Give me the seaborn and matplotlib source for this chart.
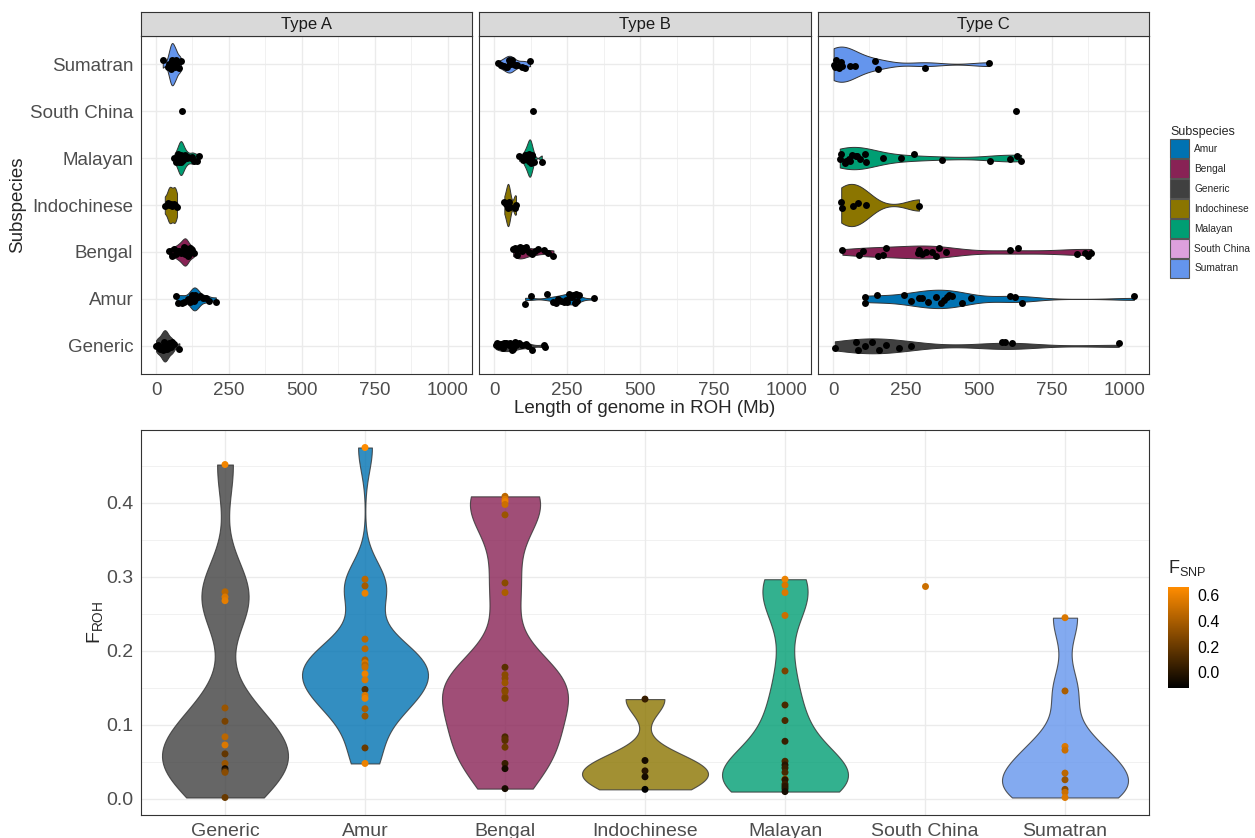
import numpy as np
import pandas as pd
import seaborn as sns
import matplotlib.pyplot as plt
from matplotlib.colors import LinearSegmentedColormap, Normalize
from matplotlib.cm import ScalarMappable
from matplotlib.patches import Patch

# ---------------- data ----------------
subspecies = ["Amur", "Bengal", "Generic", "Indochinese", "Malayan", "South China", "Sumatran"]
sub_colors = ["#0072B2", "#882255", "#404040", "#8B7500", "#009E73", "#DDA0DD", "#6495ED"]
roh_types = ["Type A", "Type B", "Type C"]

# length of genome in ROH (Mb), per subspecies
roh_type_a = {
    "Amur": [70, 75, 88, 95, 110, 118, 122, 125, 128, 130, 132, 135, 138, 140, 145, 150, 160, 172, 180, 205],
    "Bengal": [45, 55, 62, 70, 75, 80, 85, 88, 92, 95, 98, 100, 102, 105, 108, 112, 118, 125, 131],
    "Generic": [0, 5, 10, 15, 20, 22, 25, 28, 30, 32, 35, 38, 40, 45, 50, 55, 60, 80],
    "Indochinese": [30, 40, 45, 50, 55, 62, 65, 72],
    "Malayan": [63, 70, 75, 78, 80, 82, 84, 85, 86, 88, 90, 92, 95, 100, 105, 110, 120, 125, 130, 140, 148],
    "South China": [89],
    "Sumatran": [23, 40, 45, 48, 50, 52, 55, 55, 58, 60, 62, 65, 68, 70, 75, 80, 85],
}
roh_type_b = {
    "Amur": [106, 125, 180, 200, 210, 220, 230, 240, 245, 250, 255, 260, 265, 270, 275, 280, 285, 290, 340],
    "Bengal": [65, 70, 75, 80, 85, 90, 95, 100, 105, 110, 120, 130, 140, 150, 170, 185, 203],
    "Generic": [5, 10, 15, 20, 25, 30, 35, 40, 45, 50, 55, 60, 65, 70, 75, 85, 95, 110, 115, 130, 170, 175],
    "Indochinese": [35, 42, 46, 48, 50, 55, 70, 75],
    "Malayan": [85, 100, 105, 110, 112, 115, 118, 120, 121, 122, 124, 125, 128, 130, 135, 163],
    "South China": [134],
    "Sumatran": [15, 25, 35, 40, 45, 50, 55, 58, 62, 70, 80, 95, 105, 123],
}
roh_type_c = {
    "Amur": [108, 108, 151, 244, 267, 295, 305, 324, 352, 369, 381, 392, 398, 409, 443, 472, 606, 625, 648, 1032],
    "Bengal": [32, 89, 102, 153, 170, 182, 290, 295, 305, 318, 341, 352, 364, 386, 606, 633, 835, 864, 873, 886],
    "Generic": [6, 80, 85, 108, 134, 159, 182, 227, 267, 580, 591, 614, 980],
    "Indochinese": [28, 30, 68, 85, 114, 295],
    "Malayan": [23, 28, 40, 45, 55, 57, 66, 80, 82, 91, 111, 114, 170, 233, 276, 375, 540, 608, 631, 645],
    "South China": [626],
    "Sumatran": [2, 6, 11, 20, 22, 25, 28, 30, 59, 77, 145, 153, 316, 534],
}

# F_ROH and F_SNP per individual
froh = {
    "Generic": [0.452, 0.280, 0.273, 0.268, 0.123, 0.105, 0.084, 0.073, 0.061, 0.048, 0.041, 0.038, 0.036, 0.002],
    "Amur": [0.475, 0.297, 0.288, 0.278, 0.216, 0.203, 0.188, 0.184, 0.181, 0.178, 0.169, 0.161, 0.148, 0.140,
             0.136, 0.122, 0.112, 0.069, 0.048],
    "Bengal": [0.409, 0.405, 0.402, 0.398, 0.384, 0.292, 0.279, 0.178, 0.168, 0.163, 0.157, 0.147, 0.145, 0.138,
               0.136, 0.084, 0.081, 0.079, 0.070, 0.048, 0.041, 0.014],
    "Indochinese": [0.135, 0.052, 0.038, 0.030, 0.013],
    "Malayan": [0.297, 0.289, 0.279, 0.248, 0.173, 0.127, 0.106, 0.078, 0.051, 0.046, 0.042, 0.036, 0.027,
                0.026, 0.020, 0.017, 0.014, 0.010],
    "South China": [0.288],
    "Sumatran": [0.245, 0.146, 0.071, 0.066, 0.035, 0.026, 0.013, 0.009, 0.002],
}
fsnp = {
    "Generic": [0.62, 0.45, 0.55, 0.58, 0.35, 0.25, 0.45, 0.55, 0.18, 0.35, -0.05, 0.1, 0.3, 0.2],
    "Amur": [0.66, 0.45, 0.38, 0.6, 0.45, 0.45, 0.4, 0.55, 0.45, 0.5, 0.6, 0.55, 0.15, 0.55, 0.6, 0.4, 0.35,
             0.2, 0.6],
    "Bengal": [0.45, 0.55, 0.6, 0.5, 0.35, 0.3, 0.4, 0.15, 0.3, 0.3, 0.35, 0.25, 0.3, 0.3, 0.25, 0.1, 0.15,
               0.15, 0.2, 0.05, -0.05, -0.05],
    "Indochinese": [0.05, -0.05, 0.0, -0.05, -0.12],
    "Malayan": [0.6, 0.55, 0.55, 0.5, 0.25, 0.1, 0.1, 0.05, 0.1, 0.0, 0.05, 0.1, 0.4, 0.0, 0.05, 0.0, 0.0, -0.05],
    "South China": [0.5],
    "Sumatran": [0.55, 0.4, 0.55, 0.5, 0.45, 0.35, 0.3, 0.5, 0.55],
}

top_order = ["Sumatran", "South China", "Malayan", "Indochinese", "Bengal", "Amur", "Generic"]
bottom_order = ["Generic", "Amur", "Bengal", "Indochinese", "Malayan", "South China", "Sumatran"]

# ---------------- style ----------------
sns.set_theme(style="white")
plt.rcParams['font.family'] = ['Liberation Sans', 'DejaVu Sans']
plt.rcParams['mathtext.default'] = 'regular'

pal = dict(zip(subspecies, sub_colors))
grid_c = "#EBEBEB"
border_c = "#333333"
tick_c = "#4D4D4D"

W, H = 1255, 838
fig = plt.figure(figsize=(12.55, 8.38), dpi=100)


def box(x0, y0, x1, y1):
    return [x0 / W, 1 - y1 / H, (x1 - x0) / W, (y1 - y0) / H]


def frame(ax):
    for s in ax.spines.values():
        s.set_color(border_c)
        s.set_linewidth(0.8)
    ax.set_axisbelow(True)
    ax.grid(which="major", color=grid_c, lw=1.0)
    ax.grid(which="minor", color=grid_c, lw=0.5)
    ax.tick_params(which="major", length=3.5, width=0.8, color=border_c, labelcolor=tick_c, pad=2)
    ax.tick_params(which="minor", length=0)


def multi(df, col):
    # violins only for groups with more than one observation (like geom_violin)
    n = df.groupby(col)[col].transform("size")
    return df[n > 1]


# ---------------- top: ROH length per type ----------------
panels = [(141, 472), (479, 811), (818, 1149)]
roh_data = [roh_type_a, roh_type_b, roh_type_c]
np.random.seed(7)
for i, (name, d, (x0, x1)) in enumerate(zip(roh_types, roh_data, panels)):
    df = pd.DataFrame([(k, v) for k in subspecies for v in d[k]], columns=["Subspecies", "roh"])
    ax = fig.add_axes(box(x0, 36, x1, 374))
    sns.violinplot(data=multi(df, "Subspecies"), x="roh", y="Subspecies", hue="Subspecies", order=top_order,
                   hue_order=subspecies, palette=pal, dodge=False, density_norm="area", common_norm=True,
                   cut=0, inner=None, width=0.9, bw_adjust=0.6, saturation=1, linewidth=0.7,
                   linecolor=border_c, legend=False, ax=ax)
    sns.stripplot(data=df, x="roh", y="Subspecies", order=top_order, color="black", size=5, jitter=0.1,
                  ax=ax, zorder=3)
    ax.set_xlim(-51.6, 1083.6)
    ax.set_ylim(6.6, -0.6)
    ax.set_xticks([0, 250, 500, 750, 1000])
    ax.set_xticks([125, 375, 625, 875], minor=True)
    ax.set_xlabel("")
    ax.set_ylabel("")
    frame(ax)
    ax.tick_params(axis="both", labelsize=13.5)
    if i > 0:
        ax.tick_params(axis="y", left=False, labelleft=False)
    # facet strip
    sax = fig.add_axes(box(x0, 12, x1, 36))
    sax.set_facecolor("#D9D9D9")
    sax.set_xticks([])
    sax.set_yticks([])
    for s in sax.spines.values():
        s.set_color(border_c)
        s.set_linewidth(0.8)
    sax.text(0.5, 0.5, name, ha="center", va="center", fontsize=12, color="#1A1A1A", transform=sax.transAxes)

fig.text(645 / W, 1 - 408 / H, "Length of genome in ROH (Mb)", ha="center", va="center", fontsize=13.5)
fig.text(18 / W, 1 - 205 / H, "Subspecies", ha="center", va="center", rotation=90, fontsize=13.5)

handles = [Patch(facecolor=c, edgecolor="#555555", lw=0.8, label=s) for s, c in zip(subspecies, sub_colors)]
leg = fig.legend(handles=handles, title="Subspecies", loc="upper left", bbox_to_anchor=(1166 / W, 1 - 122 / H),
                 frameon=False, fontsize=7.3, title_fontsize=9, handlelength=1.85, handleheight=2.5,
                 labelspacing=0.1, handletextpad=0.55, borderaxespad=0)
leg._legend_box.align = "left"

# ---------------- bottom: F_ROH ----------------
db = pd.DataFrame([(k, a, b) for k in subspecies for a, b in zip(froh[k], fsnp[k])],
                  columns=["Subspecies", "froh", "fsnp"])
cmap = LinearSegmentedColormap.from_list("fsnp", ["#000000", "#FF8C00"])
norm = Normalize(db["fsnp"].min(), db["fsnp"].max())

ax2 = fig.add_axes(box(141, 430, 1149, 815))
sns.violinplot(data=multi(db, "Subspecies"), x="Subspecies", y="froh", hue="Subspecies", order=bottom_order,
               hue_order=subspecies, palette=pal, dodge=False, density_norm="width", cut=0, inner=None,
               width=0.9, bw_adjust=0.6, saturation=1, linewidth=0.8, linecolor=border_c, alpha=0.8,
               legend=False, ax=ax2)
sns.stripplot(data=db, x="Subspecies", y="froh", hue="fsnp", order=bottom_order, palette=cmap, hue_norm=norm,
              jitter=False, size=5, legend=False, ax=ax2, zorder=3)
froh_all = db["froh"]
pad = (froh_all.max() - froh_all.min()) * 0.05
ax2.set_ylim(froh_all.min() - pad, froh_all.max() + pad)
ax2.set_xlim(-0.6, 6.6)
ax2.set_yticks([0.0, 0.1, 0.2, 0.3, 0.4])
ax2.set_yticks([0.05, 0.15, 0.25, 0.35, 0.45], minor=True)
ax2.set_xlabel("")
ax2.set_ylabel("")
frame(ax2)
ax2.tick_params(axis="both", labelsize=14)
fig.text(95 / W, 1 - 622 / H, "F$_{ROH}$", ha="center", va="center", rotation=90, fontsize=14)

cax = fig.add_axes(box(1168, 587, 1189, 688))
cb = fig.colorbar(ScalarMappable(norm=norm, cmap=cmap), cax=cax)
cb.outline.set_visible(False)
cb.set_ticks([0.0, 0.2, 0.4, 0.6])
cax.tick_params(which="major", direction="in", color="white", length=4, width=0.8, left=True, right=True,
                labelsize=11.5, labelcolor="black", pad=6)
cax.tick_params(which="minor", length=0)
fig.text(1168 / W, 1 - 568 / H, "F$_{SNP}$", ha="left", va="center", fontsize=13)

fig.savefig("out.png", dpi=100)
